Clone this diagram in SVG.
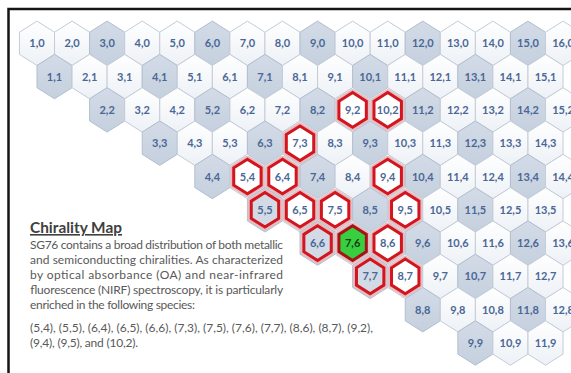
<svg xmlns="http://www.w3.org/2000/svg" xmlns:xlink="http://www.w3.org/1999/xlink" width="571" height="373" viewBox="0 0 571 373">
<defs>
<linearGradient id="gS" x1="0" y1="0" x2="0" y2="1"><stop offset="0" stop-color="#ffffff"/><stop offset="1" stop-color="#edf1f6"/></linearGradient>
<linearGradient id="gM" x1="0" y1="0" x2="0" y2="1"><stop offset="0" stop-color="#d3dbe7"/><stop offset="1" stop-color="#c5d0de"/></linearGradient>
<polygon id="hex" points="0,-22.2 17.535,-11.1 17.535,11.1 0,22.2 -17.535,11.1 -17.535,-11.1"/>
<polygon id="rng" points="0,-17.3 13.7,-8.66 13.7,8.66 0,17.3 -13.7,8.66 -13.7,-8.66"/>
</defs>
<style>
.hx{stroke:#c4ccd8;stroke-width:1}
.s .hx{fill:url(#gS)}
.m .hx{fill:url(#gM);stroke:#b3bfcf}
.glow{fill:none;stroke:#e6bcc0;stroke-width:7;stroke-linejoin:round}
.ring{stroke:#d2151e;stroke-width:3}
.s .ring{fill:#ffffff}
.m .ring{fill:#d2dae6}
.g .ring{fill:#37cf3d;stroke:#a51319}
.lb{font-family:Lato,"Liberation Sans",sans-serif;font-size:11px;font-weight:700;fill:#4a6796;text-anchor:middle}
.g .lb{fill:#1d3a1d}
.ttl{font-family:Lato,"Liberation Sans",sans-serif;font-size:16px;font-weight:700;fill:#404040;text-decoration:underline}
.bd{font-family:Lato,"Liberation Sans",sans-serif;font-size:12px;fill:#595959}
</style>
<rect x="0" y="0" width="571" height="373" fill="#ffffff"/>
<rect x="8.5" y="9" width="600" height="420" fill="none" stroke="#151515" stroke-width="2.5"/>
<g id="cells">
<!-- row 0 -->
<g id="c1_0" class="s" transform="translate(37,43.3)"><use href="#hex" class="hx"/><text class="lb" y="4">1,0</text></g>
<g id="c2_0" class="s" transform="translate(72.07,43.3)"><use href="#hex" class="hx"/><text class="lb" y="4">2,0</text></g>
<g id="c3_0" class="m" transform="translate(107.14,43.3)"><use href="#hex" class="hx"/><text class="lb" y="4">3,0</text></g>
<g id="c4_0" class="s" transform="translate(142.21,43.3)"><use href="#hex" class="hx"/><text class="lb" y="4">4,0</text></g>
<g id="c5_0" class="s" transform="translate(177.28,43.3)"><use href="#hex" class="hx"/><text class="lb" y="4">5,0</text></g>
<g id="c6_0" class="m" transform="translate(212.35,43.3)"><use href="#hex" class="hx"/><text class="lb" y="4">6,0</text></g>
<g id="c7_0" class="s" transform="translate(247.42,43.3)"><use href="#hex" class="hx"/><text class="lb" y="4">7,0</text></g>
<g id="c8_0" class="s" transform="translate(282.49,43.3)"><use href="#hex" class="hx"/><text class="lb" y="4">8,0</text></g>
<g id="c9_0" class="m" transform="translate(317.56,43.3)"><use href="#hex" class="hx"/><text class="lb" y="4">9,0</text></g>
<g id="c10_0" class="s" transform="translate(352.63,43.3)"><use href="#hex" class="hx"/><text class="lb" y="4">10,0</text></g>
<g id="c11_0" class="s" transform="translate(387.7,43.3)"><use href="#hex" class="hx"/><text class="lb" y="4">11,0</text></g>
<g id="c12_0" class="m" transform="translate(422.77,43.3)"><use href="#hex" class="hx"/><text class="lb" y="4">12,0</text></g>
<g id="c13_0" class="s" transform="translate(457.84,43.3)"><use href="#hex" class="hx"/><text class="lb" y="4">13,0</text></g>
<g id="c14_0" class="s" transform="translate(492.91,43.3)"><use href="#hex" class="hx"/><text class="lb" y="4">14,0</text></g>
<g id="c15_0" class="m" transform="translate(527.98,43.3)"><use href="#hex" class="hx"/><text class="lb" y="4">15,0</text></g>
<g id="c16_0" class="s" transform="translate(563.05,43.3)"><use href="#hex" class="hx"/><text class="lb" y="4">16,0</text></g>
<!-- row 1 -->
<g id="c1_1" class="m" transform="translate(54.53,76.6)"><use href="#hex" class="hx"/><text class="lb" y="4">1,1</text></g>
<g id="c2_1" class="s" transform="translate(89.6,76.6)"><use href="#hex" class="hx"/><text class="lb" y="4">2,1</text></g>
<g id="c3_1" class="s" transform="translate(124.67,76.6)"><use href="#hex" class="hx"/><text class="lb" y="4">3,1</text></g>
<g id="c4_1" class="m" transform="translate(159.74,76.6)"><use href="#hex" class="hx"/><text class="lb" y="4">4,1</text></g>
<g id="c5_1" class="s" transform="translate(194.81,76.6)"><use href="#hex" class="hx"/><text class="lb" y="4">5,1</text></g>
<g id="c6_1" class="s" transform="translate(229.88,76.6)"><use href="#hex" class="hx"/><text class="lb" y="4">6,1</text></g>
<g id="c7_1" class="m" transform="translate(264.95,76.6)"><use href="#hex" class="hx"/><text class="lb" y="4">7,1</text></g>
<g id="c8_1" class="s" transform="translate(300.02,76.6)"><use href="#hex" class="hx"/><text class="lb" y="4">8,1</text></g>
<g id="c9_1" class="s" transform="translate(335.09,76.6)"><use href="#hex" class="hx"/><text class="lb" y="4">9,1</text></g>
<g id="c10_1" class="m" transform="translate(370.16,76.6)"><use href="#hex" class="hx"/><text class="lb" y="4">10,1</text></g>
<g id="c11_1" class="s" transform="translate(405.23,76.6)"><use href="#hex" class="hx"/><text class="lb" y="4">11,1</text></g>
<g id="c12_1" class="s" transform="translate(440.3,76.6)"><use href="#hex" class="hx"/><text class="lb" y="4">12,1</text></g>
<g id="c13_1" class="m" transform="translate(475.37,76.6)"><use href="#hex" class="hx"/><text class="lb" y="4">13,1</text></g>
<g id="c14_1" class="s" transform="translate(510.44,76.6)"><use href="#hex" class="hx"/><text class="lb" y="4">14,1</text></g>
<g id="c15_1" class="s" transform="translate(545.51,76.6)"><use href="#hex" class="hx"/><text class="lb" y="4">15,1</text></g>
<!-- row 2 -->
<g id="c2_2" class="m" transform="translate(107.14,109.9)"><use href="#hex" class="hx"/><text class="lb" y="4">2,2</text></g>
<g id="c3_2" class="s" transform="translate(142.21,109.9)"><use href="#hex" class="hx"/><text class="lb" y="4">3,2</text></g>
<g id="c4_2" class="s" transform="translate(177.28,109.9)"><use href="#hex" class="hx"/><text class="lb" y="4">4,2</text></g>
<g id="c5_2" class="m" transform="translate(212.35,109.9)"><use href="#hex" class="hx"/><text class="lb" y="4">5,2</text></g>
<g id="c6_2" class="s" transform="translate(247.42,109.9)"><use href="#hex" class="hx"/><text class="lb" y="4">6,2</text></g>
<g id="c7_2" class="s" transform="translate(282.49,109.9)"><use href="#hex" class="hx"/><text class="lb" y="4">7,2</text></g>
<g id="c8_2" class="m" transform="translate(317.56,109.9)"><use href="#hex" class="hx"/><text class="lb" y="4">8,2</text></g>
<g id="c9_2" class="s" transform="translate(352.63,109.9)"><use href="#hex" class="hx"/><use href="#rng" class="glow"/><use href="#rng" class="ring"/><text class="lb" y="4">9,2</text></g>
<g id="c10_2" class="s" transform="translate(387.7,109.9)"><use href="#hex" class="hx"/><use href="#rng" class="glow"/><use href="#rng" class="ring"/><text class="lb" y="4">10,2</text></g>
<g id="c11_2" class="m" transform="translate(422.77,109.9)"><use href="#hex" class="hx"/><text class="lb" y="4">11,2</text></g>
<g id="c12_2" class="s" transform="translate(457.84,109.9)"><use href="#hex" class="hx"/><text class="lb" y="4">12,2</text></g>
<g id="c13_2" class="s" transform="translate(492.91,109.9)"><use href="#hex" class="hx"/><text class="lb" y="4">13,2</text></g>
<g id="c14_2" class="m" transform="translate(527.98,109.9)"><use href="#hex" class="hx"/><text class="lb" y="4">14,2</text></g>
<g id="c15_2" class="s" transform="translate(563.05,109.9)"><use href="#hex" class="hx"/><text class="lb" y="4">15,2</text></g>
<!-- row 3 -->
<g id="c3_3" class="m" transform="translate(159.74,143.2)"><use href="#hex" class="hx"/><text class="lb" y="4">3,3</text></g>
<g id="c4_3" class="s" transform="translate(194.81,143.2)"><use href="#hex" class="hx"/><text class="lb" y="4">4,3</text></g>
<g id="c5_3" class="s" transform="translate(229.88,143.2)"><use href="#hex" class="hx"/><text class="lb" y="4">5,3</text></g>
<g id="c6_3" class="m" transform="translate(264.95,143.2)"><use href="#hex" class="hx"/><text class="lb" y="4">6,3</text></g>
<g id="c7_3" class="s" transform="translate(300.02,143.2)"><use href="#hex" class="hx"/><use href="#rng" class="glow"/><use href="#rng" class="ring"/><text class="lb" y="4">7,3</text></g>
<g id="c8_3" class="s" transform="translate(335.09,143.2)"><use href="#hex" class="hx"/><text class="lb" y="4">8,3</text></g>
<g id="c9_3" class="m" transform="translate(370.16,143.2)"><use href="#hex" class="hx"/><text class="lb" y="4">9,3</text></g>
<g id="c10_3" class="s" transform="translate(405.23,143.2)"><use href="#hex" class="hx"/><text class="lb" y="4">10,3</text></g>
<g id="c11_3" class="s" transform="translate(440.3,143.2)"><use href="#hex" class="hx"/><text class="lb" y="4">11,3</text></g>
<g id="c12_3" class="m" transform="translate(475.37,143.2)"><use href="#hex" class="hx"/><text class="lb" y="4">12,3</text></g>
<g id="c13_3" class="s" transform="translate(510.44,143.2)"><use href="#hex" class="hx"/><text class="lb" y="4">13,3</text></g>
<g id="c14_3" class="s" transform="translate(545.51,143.2)"><use href="#hex" class="hx"/><text class="lb" y="4">14,3</text></g>
<!-- row 4 -->
<g id="c4_4" class="m" transform="translate(212.35,176.5)"><use href="#hex" class="hx"/><text class="lb" y="4">4,4</text></g>
<g id="c5_4" class="s" transform="translate(247.42,176.5)"><use href="#hex" class="hx"/><use href="#rng" class="glow"/><use href="#rng" class="ring"/><text class="lb" y="4">5,4</text></g>
<g id="c6_4" class="s" transform="translate(282.49,176.5)"><use href="#hex" class="hx"/><use href="#rng" class="glow"/><use href="#rng" class="ring"/><text class="lb" y="4">6,4</text></g>
<g id="c7_4" class="m" transform="translate(317.56,176.5)"><use href="#hex" class="hx"/><text class="lb" y="4">7,4</text></g>
<g id="c8_4" class="s" transform="translate(352.63,176.5)"><use href="#hex" class="hx"/><text class="lb" y="4">8,4</text></g>
<g id="c9_4" class="s" transform="translate(387.7,176.5)"><use href="#hex" class="hx"/><use href="#rng" class="glow"/><use href="#rng" class="ring"/><text class="lb" y="4">9,4</text></g>
<g id="c10_4" class="m" transform="translate(422.77,176.5)"><use href="#hex" class="hx"/><text class="lb" y="4">10,4</text></g>
<g id="c11_4" class="s" transform="translate(457.84,176.5)"><use href="#hex" class="hx"/><text class="lb" y="4">11,4</text></g>
<g id="c12_4" class="s" transform="translate(492.91,176.5)"><use href="#hex" class="hx"/><text class="lb" y="4">12,4</text></g>
<g id="c13_4" class="m" transform="translate(527.98,176.5)"><use href="#hex" class="hx"/><text class="lb" y="4">13,4</text></g>
<g id="c14_4" class="s" transform="translate(563.05,176.5)"><use href="#hex" class="hx"/><text class="lb" y="4">14,4</text></g>
<!-- row 5 -->
<g id="c5_5" class="m" transform="translate(264.95,209.8)"><use href="#hex" class="hx"/><use href="#rng" class="glow"/><use href="#rng" class="ring"/><text class="lb" y="4">5,5</text></g>
<g id="c6_5" class="s" transform="translate(300.02,209.8)"><use href="#hex" class="hx"/><use href="#rng" class="glow"/><use href="#rng" class="ring"/><text class="lb" y="4">6,5</text></g>
<g id="c7_5" class="s" transform="translate(335.09,209.8)"><use href="#hex" class="hx"/><use href="#rng" class="glow"/><use href="#rng" class="ring"/><text class="lb" y="4">7,5</text></g>
<g id="c8_5" class="m" transform="translate(370.16,209.8)"><use href="#hex" class="hx"/><text class="lb" y="4">8,5</text></g>
<g id="c9_5" class="s" transform="translate(405.23,209.8)"><use href="#hex" class="hx"/><use href="#rng" class="glow"/><use href="#rng" class="ring"/><text class="lb" y="4">9,5</text></g>
<g id="c10_5" class="s" transform="translate(440.3,209.8)"><use href="#hex" class="hx"/><text class="lb" y="4">10,5</text></g>
<g id="c11_5" class="m" transform="translate(475.37,209.8)"><use href="#hex" class="hx"/><text class="lb" y="4">11,5</text></g>
<g id="c12_5" class="s" transform="translate(510.44,209.8)"><use href="#hex" class="hx"/><text class="lb" y="4">12,5</text></g>
<g id="c13_5" class="s" transform="translate(545.51,209.8)"><use href="#hex" class="hx"/><text class="lb" y="4">13,5</text></g>
<!-- row 6 -->
<g id="c6_6" class="m" transform="translate(317.56,243.1)"><use href="#hex" class="hx"/><use href="#rng" class="glow"/><use href="#rng" class="ring"/><text class="lb" y="4">6,6</text></g>
<g id="c7_6" class="s g" transform="translate(352.63,243.1)"><use href="#hex" class="hx"/><use href="#rng" class="glow"/><use href="#rng" class="ring"/><text class="lb" y="4">7,6</text></g>
<g id="c8_6" class="s" transform="translate(387.7,243.1)"><use href="#hex" class="hx"/><use href="#rng" class="glow"/><use href="#rng" class="ring"/><text class="lb" y="4">8,6</text></g>
<g id="c9_6" class="m" transform="translate(422.77,243.1)"><use href="#hex" class="hx"/><text class="lb" y="4">9,6</text></g>
<g id="c10_6" class="s" transform="translate(457.84,243.1)"><use href="#hex" class="hx"/><text class="lb" y="4">10,6</text></g>
<g id="c11_6" class="s" transform="translate(492.91,243.1)"><use href="#hex" class="hx"/><text class="lb" y="4">11,6</text></g>
<g id="c12_6" class="m" transform="translate(527.98,243.1)"><use href="#hex" class="hx"/><text class="lb" y="4">12,6</text></g>
<g id="c13_6" class="s" transform="translate(563.05,243.1)"><use href="#hex" class="hx"/><text class="lb" y="4">13,6</text></g>
<!-- row 7 -->
<g id="c7_7" class="m" transform="translate(370.16,276.4)"><use href="#hex" class="hx"/><use href="#rng" class="glow"/><use href="#rng" class="ring"/><text class="lb" y="4">7,7</text></g>
<g id="c8_7" class="s" transform="translate(405.23,276.4)"><use href="#hex" class="hx"/><use href="#rng" class="glow"/><use href="#rng" class="ring"/><text class="lb" y="4">8,7</text></g>
<g id="c9_7" class="s" transform="translate(440.3,276.4)"><use href="#hex" class="hx"/><text class="lb" y="4">9,7</text></g>
<g id="c10_7" class="m" transform="translate(475.37,276.4)"><use href="#hex" class="hx"/><text class="lb" y="4">10,7</text></g>
<g id="c11_7" class="s" transform="translate(510.44,276.4)"><use href="#hex" class="hx"/><text class="lb" y="4">11,7</text></g>
<g id="c12_7" class="s" transform="translate(545.51,276.4)"><use href="#hex" class="hx"/><text class="lb" y="4">12,7</text></g>
<!-- row 8 -->
<g id="c8_8" class="m" transform="translate(422.77,309.7)"><use href="#hex" class="hx"/><text class="lb" y="4">8,8</text></g>
<g id="c9_8" class="s" transform="translate(457.84,309.7)"><use href="#hex" class="hx"/><text class="lb" y="4">9,8</text></g>
<g id="c10_8" class="s" transform="translate(492.91,309.7)"><use href="#hex" class="hx"/><text class="lb" y="4">10,8</text></g>
<g id="c11_8" class="m" transform="translate(527.98,309.7)"><use href="#hex" class="hx"/><text class="lb" y="4">11,8</text></g>
<g id="c12_8" class="s" transform="translate(563.05,309.7)"><use href="#hex" class="hx"/><text class="lb" y="4">12,8</text></g>
<!-- row 9 -->
<g id="c9_9" class="m" transform="translate(475.37,343)"><use href="#hex" class="hx"/><text class="lb" y="4">9,9</text></g>
<g id="c10_9" class="s" transform="translate(510.44,343)"><use href="#hex" class="hx"/><text class="lb" y="4">10,9</text></g>
<g id="c11_9" class="s" transform="translate(545.51,343)"><use href="#hex" class="hx"/><text class="lb" y="4">11,9</text></g>
</g>
<g id="caption">
<text class="ttl" x="30" y="233" textLength="92" lengthAdjust="spacingAndGlyphs">Chirality Map</text>
<text class="bd" x="30" y="248.5" textLength="253" lengthAdjust="spacing">SG76 contains a broad distribution of both metallic</text>
<text class="bd" x="30" y="263.5" textLength="253" lengthAdjust="spacing">and semiconducting chiralities. As characterized</text>
<text class="bd" x="30" y="278.5" textLength="253" lengthAdjust="spacing">by optical absorbance (OA) and near-infrared</text>
<text class="bd" x="30" y="293.5" textLength="253" lengthAdjust="spacing">fluorescence (NIRF) spectroscopy, it is particularly</text>
<text class="bd" x="30" y="308.5" textLength="165" lengthAdjust="spacing">enriched in the following species:</text>
<text class="bd" x="30" y="331.5" textLength="343" lengthAdjust="spacing">(5,4), (5,5), (6,4), (6,5), (6,6), (7,3), (7,5), (7,6), (7,7), (8,6), (8,7), (9,2),</text>
<text class="bd" x="30" y="346.5" textLength="108" lengthAdjust="spacing">(9,4), (9,5), and (10,2).</text>
</g>
</svg>
